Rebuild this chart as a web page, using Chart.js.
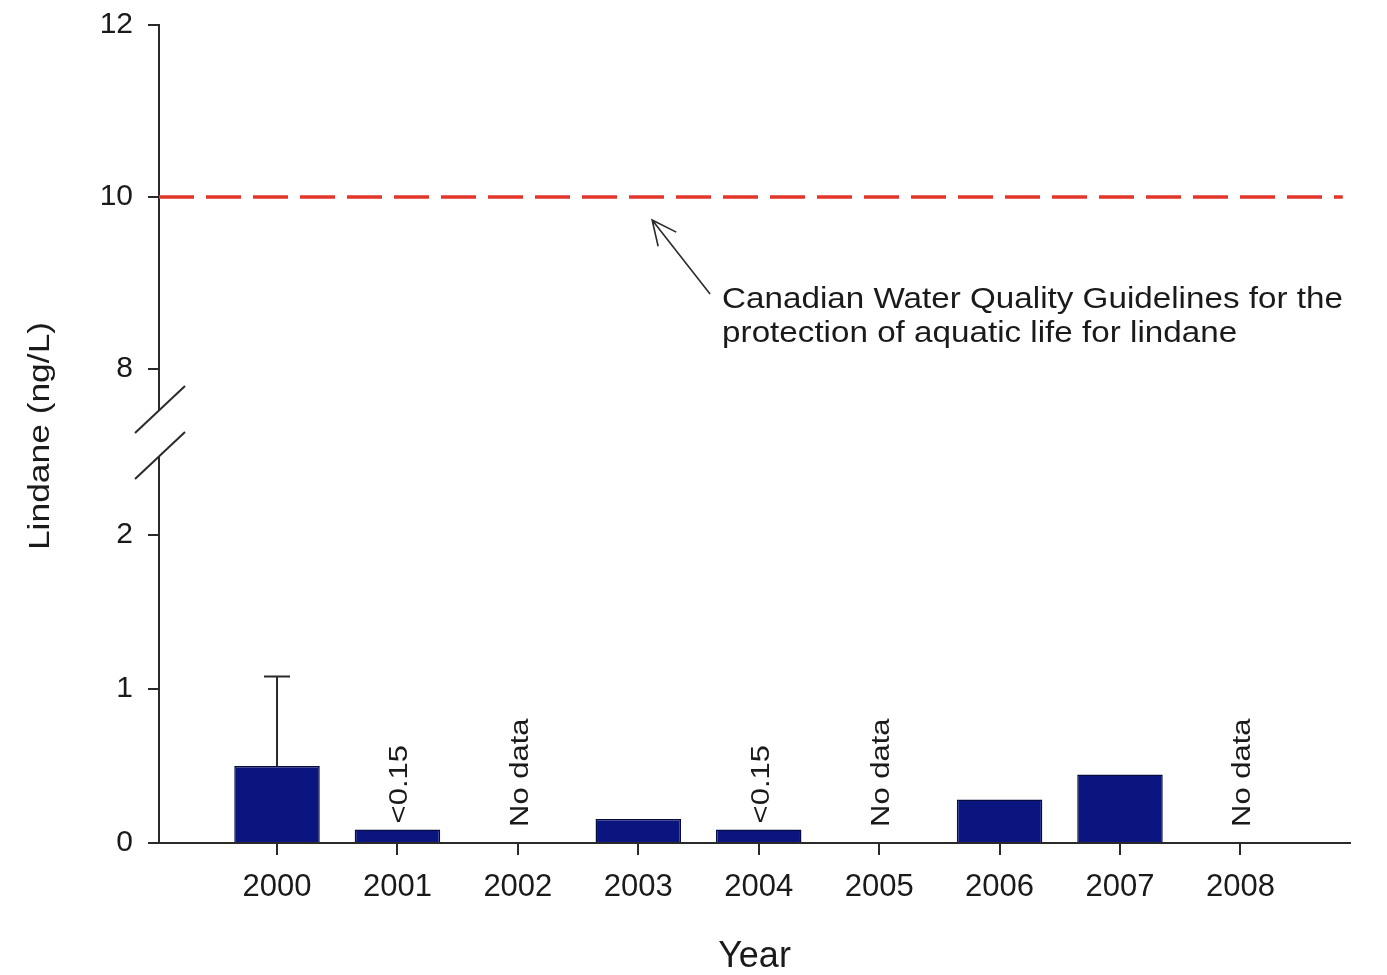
<!DOCTYPE html>
<html><head><meta charset="utf-8">
<script src="https://cdn.jsdelivr.net/npm/chart.js@4.4.1/dist/chart.umd.min.js"></script>
<style>html,body{margin:0;padding:0;background:#fff;overflow:hidden}#wrap{width:1387px;height:975px}</style>
</head><body><div id="wrap"><canvas id="c" width="1387" height="975"></canvas></div>
<script>
// ---- data ----
const years = [2000, 2001, 2002, 2003, 2004, 2005, 2006, 2007, 2008];
const lindane = [0.5, 0.088, null, 0.155, 0.088, null, 0.282, 0.445, null];
const errorUpper = [1.08, null, null, null, null, null, null, null, null];
const notes = ['', '<0.15', 'No data', '', '<0.15', 'No data', '', '', 'No data'];
const lowerTicks = [0, 1, 2];
const upperTicks = [8, 10, 12];
const guidelineValue = 10;
const guidelineText = ['Canadian Water Quality Guidelines for the', 'protection of aquatic life for lindane'];
const xRange = [1999.02, 2008.91];
const lowerRange = [0, 2.66];
const upperRange = [7.256, 12];
const yTitle = 'Lindane (ng/L)';
const xTitle = 'Year';

const FONT = "'Liberation Sans', Arial, sans-serif";
const INK = '#1a1a1a';
const AXIS = '#2a2a2a';
Chart.defaults.font.family = FONT;
Chart.defaults.color = INK;

function stretchedText(ctx, text, x, y, sx, rot) {
  ctx.save();
  ctx.translate(x, y);
  if (rot) ctx.rotate(rot);
  ctx.scale(sx, 1);
  ctx.fillText(text, 0, 0);
  ctx.restore();
}

const decor = {
  id: 'decor',
  afterDatasetsDraw(chart) {
    const {ctx} = chart;
    const x = chart.scales.x, yLow = chart.scales.yLow, yHigh = chart.scales.yHigh;
    const meta = chart.getDatasetMeta(0);
    ctx.save();
    // error bars
    ctx.strokeStyle = AXIS; ctx.lineWidth = 2;
    errorUpper.forEach((u, i) => {
      if (u == null) return;
      const px = meta.data[i].x;
      const y0 = yLow.getPixelForValue(lindane[i]);
      const y1 = yLow.getPixelForValue(u);
      ctx.beginPath();
      ctx.moveTo(px, y0); ctx.lineTo(px, y1);
      ctx.moveTo(px - 13, y1); ctx.lineTo(px + 13, y1);
      ctx.stroke();
    });
    // rotated notes
    ctx.fillStyle = INK;
    ctx.font = '25px ' + FONT;
    ctx.textAlign = 'left'; ctx.textBaseline = 'middle';
    notes.forEach((t, i) => {
      if (!t) return;
      const base = lindane[i] != null ? lindane[i] : 0;
      const px = x.getPixelForValue(years[i]) + 3;
      const py = yLow.getPixelForValue(base) - (lindane[i] != null ? 6 : 16);
      stretchedText(ctx, t, px, py, 1.24, -Math.PI / 2);
    });
    // annotation arrow
    const hx = x.getPixelForValue(2003.115), hy = yHigh.getPixelForValue(9.733);
    const tx = x.getPixelForValue(2003.596), ty = yHigh.getPixelForValue(8.872);
    const ang = Math.atan2(ty - hy, tx - hx);
    ctx.strokeStyle = AXIS; ctx.lineWidth = 1.6;
    ctx.beginPath();
    ctx.moveTo(tx, ty); ctx.lineTo(hx, hy);
    ctx.moveTo(hx + 27 * Math.cos(ang - 0.44), hy + 27 * Math.sin(ang - 0.44));
    ctx.lineTo(hx, hy);
    ctx.lineTo(hx + 27 * Math.cos(ang + 0.44), hy + 27 * Math.sin(ang + 0.44));
    ctx.stroke();
    // annotation text
    ctx.font = '29px ' + FONT;
    ctx.textBaseline = 'alphabetic'; ctx.textAlign = 'left';
    const ax = x.getPixelForValue(2003.696), ay = yHigh.getPixelForValue(8.709);
    guidelineText.forEach((t, k) => stretchedText(ctx, t, ax, ay + k * 34, 1.145, 0));
    ctx.restore();
  },
  afterDraw(chart) {
    const {ctx, chartArea} = chart;
    const yLow = chart.scales.yLow, yHigh = chart.scales.yHigh;
    const xl = chartArea.left;
    const mid = (yHigh.bottom + yLow.top) / 2;
    ctx.save();
    ctx.fillStyle = '#fff';
    ctx.fillRect(xl - 5, mid - 22, 10, 45);
    ctx.strokeStyle = AXIS; ctx.lineWidth = 2;
    [mid - 23, mid + 23].forEach(cy => {
      ctx.beginPath();
      ctx.moveTo(xl - 24, cy + 23); ctx.lineTo(xl + 26, cy - 24);
      ctx.stroke();
    });
    // y title
    ctx.fillStyle = INK;
    ctx.font = '29px ' + FONT;
    ctx.textAlign = 'center'; ctx.textBaseline = 'middle';
    stretchedText(ctx, yTitle, xl - 118, (chartArea.top + chartArea.bottom) / 2 + 2, 1.22, -Math.PI / 2);
    ctx.restore();
  }
};

const tickGrid = {display: true, drawOnChartArea: false, drawTicks: true, color: AXIS, lineWidth: 2, offset: false};
const fitY = s => { s.width = 159; s.paddingTop = 0; s.paddingBottom = 0; };

new Chart(document.getElementById('c'), {
  type: 'bar',
  data: {
    datasets: [
      {
        type: 'bar',
        data: years.map((yr, i) => ({x: yr, y: lindane[i]})),
        xAxisID: 'x', yAxisID: 'yLow',
        backgroundColor: '#0a1580',
        borderColor: '#060c40',
        borderWidth: 1.5,
        barPercentage: 0.71,
        categoryPercentage: 1.0
      },
      {
        type: 'line',
        data: [{x: xRange[0], y: guidelineValue}, {x: 2008.85, y: guidelineValue}],
        xAxisID: 'x', yAxisID: 'yHigh',
        borderColor: '#e2362a',
        borderWidth: 3.5,
        borderDash: [35, 12],
        pointRadius: 0,
        fill: false,
        tension: 0
      }
    ]
  },
  options: {
    responsive: false,
    devicePixelRatio: 1,
    animation: false,
    events: [],
    layout: {padding: {top: 25, right: 37, left: 0, bottom: 0}},
    plugins: {legend: {display: false}, tooltip: {enabled: false}},
    scales: {
      yLow: {
        type: 'linear', position: 'left', stack: 'v', stackWeight: 410,
        min: lowerRange[0], max: lowerRange[1],
        afterBuildTicks: s => { s.ticks = lowerTicks.map(v => ({value: v})); },
        afterFit: fitY,
        grid: Object.assign({}, tickGrid, {tickLength: 11}),
        border: {display: true, color: AXIS, width: 2},
        ticks: {font: {size: 30}, color: INK, padding: 15, callback: v => String(v)}
      },
      yHigh: {
        type: 'linear', position: 'left', stack: 'v', stackWeight: 408,
        min: upperRange[0], max: upperRange[1],
        afterBuildTicks: s => { s.ticks = upperTicks.map(v => ({value: v})); },
        afterFit: fitY,
        grid: Object.assign({}, tickGrid, {tickLength: 11}),
        border: {display: true, color: AXIS, width: 2},
        ticks: {font: {size: 30}, color: INK, padding: 15, callback: v => String(v)}
      },
      x: {
        type: 'linear', position: 'bottom', offset: false,
        min: xRange[0], max: xRange[1],
        afterBuildTicks: s => { s.ticks = years.map(v => ({value: v})); },
        afterFit: s => { s.height = 132; s.paddingLeft = 0; s.paddingRight = 0; },
        grid: Object.assign({}, tickGrid, {tickLength: 12}),
        border: {display: true, color: AXIS, width: 2},
        ticks: {font: {size: 31}, color: INK, padding: 14, maxRotation: 0, autoSkip: false, callback: v => String(v)},
        title: {display: true, text: xTitle, font: {size: 36, lineHeight: 1.0}, color: INK, padding: {top: 0, bottom: 0}}
      }
    }
  },
  plugins: [decor]
});
</script></body></html>
